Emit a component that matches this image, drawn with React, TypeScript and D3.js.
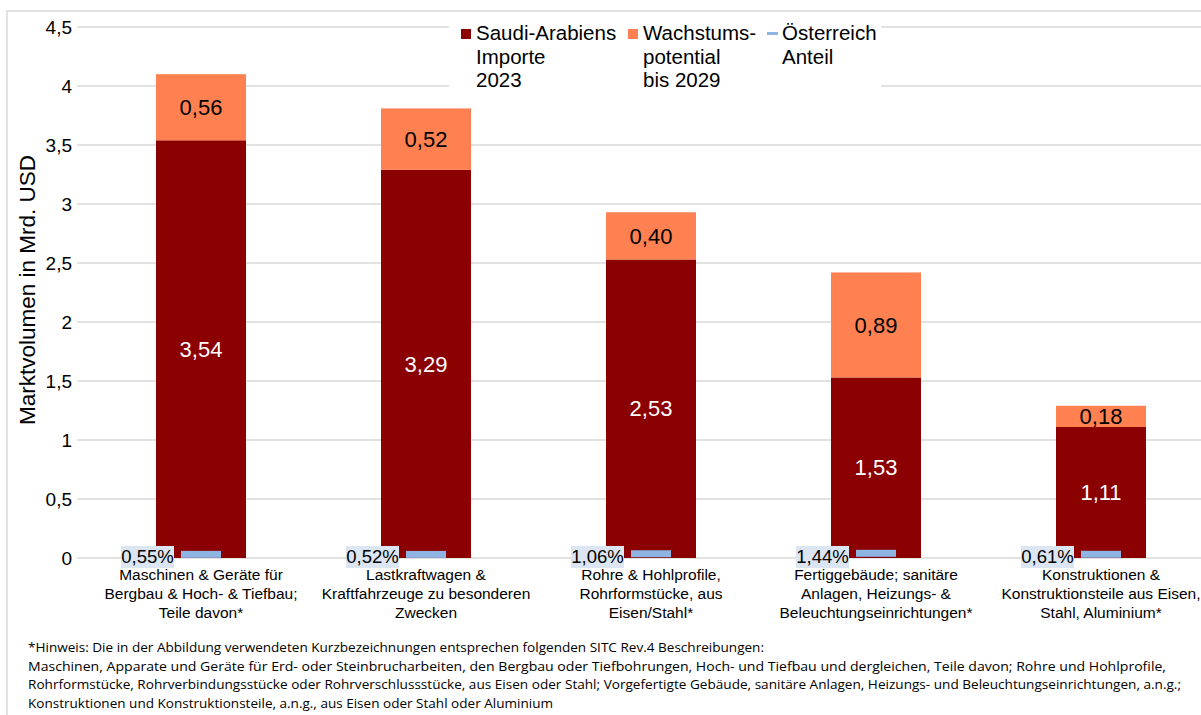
import React from 'react';
import { scaleBand, scaleLinear } from 'd3';

const categories = [
  ['Maschinen & Geräte für', 'Bergbau & Hoch- & Tiefbau;', 'Teile davon*'],
  ['Lastkraftwagen &', 'Kraftfahrzeuge zu besonderen', 'Zwecken'],
  ['Rohre & Hohlprofile,', 'Rohrformstücke, aus', 'Eisen/Stahl*'],
  ['Fertiggebäude; sanitäre', 'Anlagen, Heizungs- &', 'Beleuchtungseinrichtungen*'],
  ['Konstruktionen &', 'Konstruktionsteile aus Eisen,', 'Stahl, Aluminium*'],
];
const imports2023 = [3.54, 3.29, 2.53, 1.53, 1.11];
const growth2029 = [0.56, 0.52, 0.4, 0.89, 0.18];
const austriaShare = [0.55, 0.52, 1.06, 1.44, 0.61];
const yTicks = [0, 0.5, 1, 1.5, 2, 2.5, 3, 3.5, 4, 4.5];

const legendItems = [
  { lines: ['Saudi-Arabiens', 'Importe', '2023'], color: '#8B0000', kind: 'rect' },
  { lines: ['Wachstums-', 'potential', 'bis 2029'], color: '#FF8050', kind: 'rect' },
  { lines: ['Österreich', 'Anteil'], color: '#8EB4E3', kind: 'line' },
];

const footnote = [
  { text: '*Hinweis: Die in der Abbildung verwendeten Kurzbezeichnungen entsprechen folgenden SITC Rev.4 Beschreibungen:', len: 736 },
  { text: 'Maschinen, Apparate und Geräte für Erd- oder Steinbrucharbeiten, den Bergbau oder Tiefbohrungen, Hoch- und Tiefbau und dergleichen, Teile davon; Rohre und Hohlprofile,', len: 1138 },
  { text: 'Rohrformstücke, Rohrverbindungsstücke oder Rohrverschlussstücke, aus Eisen oder Stahl; Vorgefertigte Gebäude, sanitäre Anlagen, Heizungs- und Beleuchtungseinrichtungen, a.n.g.;', len: 1153 },
  { text: 'Konstruktionen und Konstruktionsteile, a.n.g., aus Eisen oder Stahl oder Aluminium', len: 525 },
];

const fmt = (v: number, d = 2) => v.toFixed(d).replace('.', ',');

export default function App() {
  const width = 1201;
  const height = 715;
  const left = 77;
  const top = 27;
  const bottom = 558;

  const x = scaleBand<number>()
    .domain(categories.map((d, i) => i))
    .range([88.5, 1213.5])
    .paddingInner(0.6)
    .paddingOuter(0.3);
  const y = scaleLinear().domain([0, 4.5]).range([bottom, top]);
  const bw = x.bandwidth();
  const font = '"Liberation Sans", Arial, sans-serif';

  return (
    <svg width={width} height={height} style={{ position: 'absolute', left: 0, top: 0 }} fontFamily={font}>
      <rect x={0} y={0} width={width} height={height} fill="#fff" />
      <rect x={7} y={11} width={width + 20} height={height + 20} fill="none" stroke="#d9d9d9" strokeWidth={1.5} />

      {yTicks.map(t => (
        <g key={t}>
          <line x1={left} x2={width} y1={y(t)} y2={y(t)} stroke="#d9d9d9" strokeWidth={1.5} />
          <text x={72} y={y(t)} dy="0.35em" textAnchor="end" fontSize={19} fill="#000">
            {fmt(t, t % 1 === 0 ? 0 : 1)}
          </text>
        </g>
      ))}

      <text transform={`translate(35,290) rotate(-90)`} textAnchor="middle" fontSize={22.5} fill="#000">
        Marktvolumen in Mrd. USD
      </text>

      {imports2023.map((v, i) => {
        const g = growth2029[i];
        const cx = x(i)! + bw / 2;
        return (
          <g key={i}>
            <rect x={x(i)} y={y(v)} width={bw} height={y(0) - y(v)} fill="#8B0000" />
            <rect x={x(i)} y={y(v + g)} width={bw} height={y(v) - y(v + g)} fill="#FF8050" />
            <text x={cx} y={(y(0) + y(v)) / 2} dy="0.35em" textAnchor="middle" fontSize={22} fill="#fff">
              {fmt(v)}
            </text>
            <text x={cx} y={(y(v) + y(v + g)) / 2} dy="0.35em" textAnchor="middle" fontSize={22} fill="#000">
              {fmt(g)}
            </text>
          </g>
        );
      })}

      {austriaShare.map((s, i) => {
        const cx = x(i)! + bw / 2;
        const cy = y(s / 100) - 3;
        return (
          <g key={i}>
            <rect x={cx - 20} y={cy - 3.5} width={40} height={7} fill="#8EB4E3" />
            <rect x={cx - 80} y={546} width={53} height={22} fill="#DCE6F2" />
            <text x={cx - 53.5} y={557} dy="0.35em" textAnchor="middle" fontSize={18.5} fill="#000">
              {fmt(s)}%
            </text>
          </g>
        );
      })}

      {categories.map((lines, i) => (
        <text key={i} x={x(i)! + bw / 2} y={580} textAnchor="middle" fontSize={15.5} fill="#000">
          {lines.map((l, j) => (
            <tspan key={j} x={x(i)! + bw / 2} dy={j === 0 ? 0 : 19}>
              {l}
            </tspan>
          ))}
        </text>
      ))}

      <rect x={449} y={15} width={432} height={80} fill="#fff" />
      {legendItems.map((item, i) => {
        const lx = [461, 628, 767][i];
        return (
          <g key={i}>
            {item.kind === 'rect' ? (
              <rect x={lx} y={29} width={10} height={10} fill={item.color} />
            ) : (
              <rect x={lx} y={32} width={11} height={3} fill={item.color} />
            )}
            <text x={lx + 15} y={40} fontSize={20.5} fill="#000">
              {item.lines.map((l, j) => (
                <tspan key={j} x={lx + 15} dy={j === 0 ? 0 : 23.5}>
                  {l}
                </tspan>
              ))}
            </text>
          </g>
        );
      })}

      {footnote.map((f, i) => (
        <text
          key={i}
          x={28}
          y={652 + i * 18.5}
          fontSize={12.5}
          fontFamily='"Open Sans", sans-serif'
          textLength={f.len}
          lengthAdjust="spacingAndGlyphs"
          fill="#000"
        >
          {f.text}
        </text>
      ))}
    </svg>
  );
}
